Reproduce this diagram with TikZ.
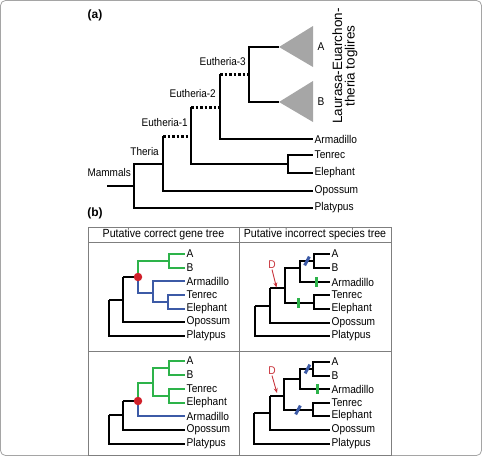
\documentclass[tikz,border=0pt]{standalone}
\usepackage{fontspec}
\setmainfont[FakeStretch=0.9]{Liberation Sans}
\newfontfamily\plainsans{Liberation Sans}
\usetikzlibrary{arrows.meta}
\definecolor{tgreen}{HTML}{2DB34A}
\definecolor{tblue}{HTML}{3C5AA6}
\definecolor{tred}{HTML}{D0202A}
\definecolor{dred}{HTML}{C8323A}
\definecolor{trigray}{HTML}{A6A6A6}
\definecolor{framegray}{HTML}{7F7F7F}
\begin{document}
\begin{tikzpicture}[x=1pt,y=-1pt,
  bra/.style={line width=2pt},
  dotl/.style={line width=3pt, dash pattern=on 2.5pt off 2pt},
  brb/.style={line width=1.3pt},
  gbr/.style={line width=2pt, tgreen},
  bbr/.style={line width=2pt, tblue},
  leaf/.style={anchor=west, inner sep=1.5pt, font=\fontsize{11.3}{12}\selectfont},
  clab/.style={anchor=east, inner sep=1pt, font=\fontsize{11.1}{12}\selectfont},
  hdr/.style={inner sep=1pt, font=\fontsize{11.8}{12}\selectfont},
  panel/.style={inner sep=0pt, font=\plainsans\fontsize{12}{14}\selectfont\bfseries},
  rdot/.style={circle, fill=tred, minimum size=8.5pt, inner sep=0pt},
  gbar/.style={rectangle, fill=tgreen, minimum width=3pt, minimum height=10pt, inner sep=0pt},
  bbar/.style={rectangle, fill=tblue, minimum width=3pt, minimum height=10pt, inner sep=0pt, rotate=-28},
  dlab/.style={inner sep=0.5pt, text=dred, font=\fontsize{11.3}{12}\selectfont},
  darr/.style={-{Stealth[length=5pt,width=4pt]}, line width=0.9pt, dred},
  tbl/.style={framegray, line width=0.9pt}
]
\useasboundingbox (0,0) rectangle (482,456);
\draw[framegray!70, line width=0.8pt, rounded corners=5pt] (0.5,0.5) rectangle (481.5,455.5);

% ---------------- panel (a)
\node[panel] (pa) at (95,15) {(a)};
\node[leaf] (apla) at (313,208) {Platypus};
\node[leaf] (aopo) at (313,191) {Opossum};
\node[leaf] (aele) at (313,173) {Elephant};
\node[leaf] (aten) at (313,155) {Tenrec};
\node[leaf] (aarm) at (313,139) {Armadillo};
\node[leaf] (aA) at (316,47) {A};
\node[leaf] (aB) at (316,102) {B};
\coordinate (aroot) at (107,186);
\coordinate (amam) at (134,186);
\coordinate (athe) at (163,164);
\coordinate (ae1s) at (163,136);
\coordinate (ae1) at (191,136);
\coordinate (ate) at (288,164);
\coordinate (ae2s) at (191,107);
\coordinate (ae2) at (220,107);
\coordinate (ae3s) at (220,74);
\coordinate (ae3) at (249,74);
\coordinate (atA) at (279,47);
\coordinate (atB) at (279,102);
\draw[bra] (aroot) -- (amam);
\draw[bra] (amam) |- (athe);
\draw[bra] (amam) |- (apla.west);
\draw[bra] (athe) |- (aopo.west);
\draw[bra] (athe) -- (ae1s);
\draw[dotl] (ae1s) -- (ae1);
\draw[bra] (ae1) |- (ate);
\draw[bra] (ae1) -- (ae2s);
\draw[bra] (ate) |- (aten.west);
\draw[bra] (ate) |- (aele.west);
\draw[dotl] (ae2s) -- (ae2);
\draw[bra] (ae2) |- (aarm.west);
\draw[bra] (ae2) -- (ae3s);
\draw[dotl] (ae3s) -- (ae3);
\draw[bra] (ae3) |- (atA);
\draw[bra] (ae3) |- (atB);
\fill[trigray] (atA) -- (313,26) -- (313,67) -- cycle;
\fill[trigray] (atB) -- (313,81) -- (313,122) -- cycle;
\node[clab] (le3) at (247,62) {Eutheria-3};
\node[clab] (le2) at (217,94) {Eutheria-2};
\node[clab] (le1) at (189,123) {Eutheria-1};
\node[clab] (lth) at (160,152) {Theria};
\node[clab] (lma) at (132,173) {Mammals};
\node[rotate=90, align=center, inner sep=0pt, font=\plainsans\fontsize{13.5}{12.5}\selectfont] (laur) at (345,66) {Laurasa-Euarchon-\\theria toglires};

% ---------------- panel (b)
\node[panel] (pb) at (95,213) {(b)};
\draw[tbl] (88,227) rectangle (391,455);
\draw[tbl] (88,242) -- (391,242);
\draw[tbl] (88,351) -- (391,351);
\draw[tbl] (239,227) -- (239,455);
\node[hdr] (h1) at (163.5,234.5) {Putative correct gene tree};
\node[hdr] (h2) at (315,234.5) {Putative incorrect species tree};

% top-left
\node[leaf] (p1A) at (185,254) {A};
\node[leaf] (p1B) at (185,268) {B};
\node[leaf] (p1arm) at (185,281) {Armadillo};
\node[leaf] (p1ten) at (185,295) {Tenrec};
\node[leaf] (p1ele) at (185,309) {Elephant};
\node[leaf] (p1opo) at (185,322) {Opossum};
\node[leaf] (p1pla) at (185,336) {Platypus};
\coordinate (p1r) at (109,300);
\coordinate (p1t) at (123,300);
\coordinate (p1e) at (123,277);
\coordinate (p1d) at (138,277);
\coordinate (p1g) at (138,261);
\coordinate (p1ab) at (169,261);
\coordinate (p1b) at (138,293);
\coordinate (p1ax) at (153,293);
\coordinate (p1te) at (168,302);
\draw[brb] (p1r) |- (p1pla.west);
\draw[brb] (p1r) -- (p1t);
\draw[brb] (p1e) |- (p1opo.west);
\draw[brb] (p1e) -- (p1d);
\draw[gbr] (p1d) -- (p1g) -- (p1ab);
\draw[gbr] (p1ab) |- (p1A.west);
\draw[gbr] (p1ab) |- (p1B.west);
\draw[bbr] (p1d) -- (p1b) -- (p1ax);
\draw[bbr] (p1ax) |- (p1arm.west);
\draw[bbr] (p1ax) |- (p1te);
\draw[bbr] (p1te) |- (p1ten.west);
\draw[bbr] (p1te) |- (p1ele.west);
\node[rdot] (p1dot) at (p1d) {};

% top-right
\node[leaf] (p2A) at (330,254) {A};
\node[leaf] (p2B) at (330,268) {B};
\node[leaf] (p2arm) at (330,282) {Armadillo};
\node[leaf] (p2ten) at (330,295) {Tenrec};
\node[leaf] (p2ele) at (330,309) {Elephant};
\node[leaf] (p2opo) at (330,323) {Opossum};
\node[leaf] (p2pla) at (330,336) {Platypus};
\coordinate (p2r) at (255,306);
\coordinate (p2t) at (270,306);
\coordinate (p2e) at (270,288);
\coordinate (p2d) at (285,288);
\coordinate (p2u) at (285,268);
\coordinate (p2ua) at (300,268);
\coordinate (p2ab) at (314,261);
\coordinate (p2te) at (314,303);
\draw[brb] (p2r) |- (p2pla.west);
\draw[brb] (p2r) -- (p2t);
\draw[brb] (p2e) |- (p2opo.west);
\draw[brb] (p2e) -- (p2d);
\draw[brb] (p2d) -- (p2u) -- (p2ua);
\draw[brb] (p2ua) |- (p2arm.west);
\draw[brb] (p2ua) |- (p2ab);
\draw[brb] (p2ab) |- (p2A.west);
\draw[brb] (p2ab) |- (p2B.west);
\draw[brb] (p2d) |- (p2te);
\draw[brb] (p2te) |- (p2ten.west);
\draw[brb] (p2te) |- (p2ele.west);
\node[bbar] (p2b1) at (307,261) {};
\node[gbar] (p2g1) at (316,282) {};
\node[gbar] (p2g2) at (298,303) {};
\node[dlab] (p2D) at (272,265) {D};
\coordinate (p2Dt) at (276.5,287.5);
\draw[darr] (p2D.south) -- (p2Dt);

% bottom-left
\node[leaf] (p3A) at (185,361) {A};
\node[leaf] (p3B) at (185,375) {B};
\node[leaf] (p3ten) at (185,389) {Tenrec};
\node[leaf] (p3ele) at (185,403) {Elephant};
\node[leaf] (p3arm) at (185,416) {Armadillo};
\node[leaf] (p3opo) at (185,430) {Opossum};
\node[leaf] (p3pla) at (185,444) {Platypus};
\coordinate (p3r) at (109,415);
\coordinate (p3t) at (123,415);
\coordinate (p3e) at (123,401);
\coordinate (p3d) at (138,401);
\coordinate (p3g) at (138,383);
\coordinate (p3gx) at (153,383);
\coordinate (p3ab) at (169,368);
\coordinate (p3te) at (169,396);
\draw[brb] (p3r) |- (p3pla.west);
\draw[brb] (p3r) -- (p3t);
\draw[brb] (p3e) |- (p3opo.west);
\draw[brb] (p3e) -- (p3d);
\draw[bbr] (p3d) |- (p3arm.west);
\draw[gbr] (p3d) -- (p3g) -- (p3gx);
\draw[gbr] (p3gx) |- (p3ab);
\draw[gbr] (p3gx) |- (p3te);
\draw[gbr] (p3ab) |- (p3A.west);
\draw[gbr] (p3ab) |- (p3B.west);
\draw[gbr] (p3te) |- (p3ten.west);
\draw[gbr] (p3te) |- (p3ele.west);
\node[rdot] (p3dot) at (p3d) {};

% bottom-right
\node[leaf] (p4A) at (330,362) {A};
\node[leaf] (p4B) at (330,376) {B};
\node[leaf] (p4arm) at (330,389) {Armadillo};
\node[leaf] (p4ten) at (330,403) {Tenrec};
\node[leaf] (p4ele) at (330,416) {Elephant};
\node[leaf] (p4opo) at (330,430) {Opossum};
\node[leaf] (p4pla) at (330,444) {Platypus};
\coordinate (p4r) at (254,413);
\coordinate (p4t) at (270,413);
\coordinate (p4e) at (270,396);
\coordinate (p4d) at (284,396);
\coordinate (p4u) at (284,379);
\coordinate (p4ua) at (300,379);
\coordinate (p4ab) at (313,369);
\coordinate (p4te) at (313,410);
\draw[brb] (p4r) |- (p4pla.west);
\draw[brb] (p4r) -- (p4t);
\draw[brb] (p4e) |- (p4opo.west);
\draw[brb] (p4e) -- (p4d);
\draw[brb] (p4d) -- (p4u) -- (p4ua);
\draw[brb] (p4ua) |- (p4arm.west);
\draw[brb] (p4ua) |- (p4ab);
\draw[brb] (p4ab) |- (p4A.west);
\draw[brb] (p4ab) |- (p4B.west);
\draw[brb] (p4d) |- (p4te);
\draw[brb] (p4te) |- (p4ten.west);
\draw[brb] (p4te) |- (p4ele.west);
\node[bbar] (p4b1) at (307.5,369) {};
\node[gbar] (p4g1) at (317,389) {};
\node[bbar] (p4b2) at (298,410) {};
\node[dlab] (p4D) at (272,371) {D};
\coordinate (p4Dt) at (277,393);
\draw[darr] (p4D.south) -- (p4Dt);
\end{tikzpicture}
\end{document}
